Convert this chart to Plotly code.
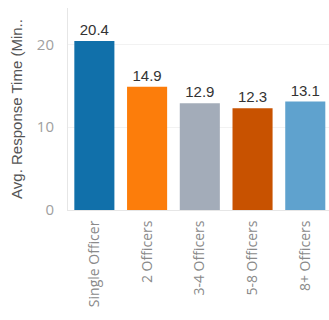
import plotly.graph_objects as go

categories = ["Single Officer", "2 Officers", "3-4 Officers", "5-8 Officers", "8+ Officers"]
avg_response_min = [20.4, 14.9, 12.9, 12.3, 13.1]
bar_colors = ["#1170aa", "#fc7d0b", "#a3acb9", "#c85200", "#5fa2ce"]

fig = go.Figure(
    go.Bar(
        x=categories,
        y=avg_response_min,
        marker=dict(color=bar_colors, line=dict(width=0)),
        text=[f"{v:.1f}" for v in avg_response_min],
        textposition="outside",
        textfont=dict(family="Liberation Sans, Arial, sans-serif", size=15, color="#333333"),
        cliponaxis=False,
    )
)

fig.update_layout(
    width=329,
    height=320,
    margin=dict(l=68, r=0, t=8, b=110),
    paper_bgcolor="white",
    plot_bgcolor="white",
    bargap=0.24,
    showlegend=False,
    xaxis=dict(
        range=[-0.5, 4.45],
        tickangle=-90,
        tickfont=dict(family="Open Sans, sans-serif", size=14, color="#8a8a8a"),
        showline=True,
        linecolor="#e6e6e6",
        linewidth=1,
        showgrid=False,
        ticks="outside",
        ticklen=4,
        tickcolor="rgba(0,0,0,0)",
    ),
    yaxis=dict(
        range=[0, 24.4],
        tickvals=[0, 10, 20],
        tickfont=dict(family="Open Sans, sans-serif", size=15, color="#a0a0a0"),
        ticklabelstandoff=10,
        showgrid=True,
        gridcolor="#f2f2f2",
        zeroline=False,
        showline=True,
        linecolor="#e6e6e6",
        linewidth=1,
        title=dict(
            text="Avg. Response Time (Min..",
            font=dict(family="Liberation Sans, Arial, sans-serif", size=15, color="#555555"),
            standoff=10,
        ),
    ),
)

fig.write_html("out.html")
